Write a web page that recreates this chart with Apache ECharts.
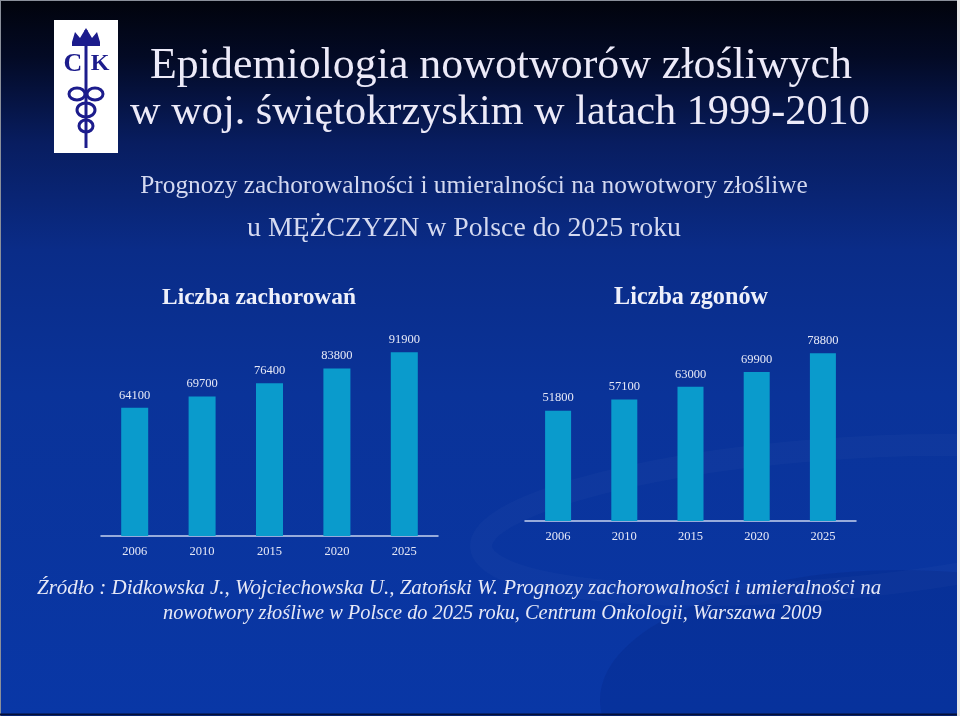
<!DOCTYPE html>
<html><head><meta charset="utf-8">
<script src="https://cdn.jsdelivr.net/npm/echarts@6/dist/echarts.min.js"></script>
<style>html,body{margin:0;padding:0;background:#0a2f95}#c{width:960px;height:716px}</style>
</head><body><div id="c"></div>
<script>
// ---- data ----
const years = ['2006', '2010', '2015', '2020', '2025'];
const incidence = [64100, 69700, 76400, 83800, 91900];   // Liczba zachorowań
const deaths = [51800, 57100, 63000, 69900, 78800];      // Liczba zgonów
const titleLines = ['Epidemiologia nowotworów złośliwych', 'w woj. świętokrzyskim w latach 1999-2010'];
const subtitleLines = ['Prognozy zachorowalności i umieralności na nowotwory złośliwe', 'u MĘŻCZYZN w Polsce do 2025 roku'];
const chartTitles = ['Liczba zachorowań', 'Liczba zgonów'];
const sourceLines = ['Źródło : Didkowska J., Wojciechowska U., Zatoński W. Prognozy zachorowalności i umieralności na',
  'nowotwory złośliwe w Polsce do 2025 roku, Centrum Onkologii, Warszawa 2009'];

const SERIF = '"Liberation Serif", "DejaVu Serif", serif';
const cv = document.createElement('canvas').getContext('2d');
function fit(text, weight, style, target) {
  cv.font = style + ' ' + weight + ' 100px ' + SERIF;
  return 100 * target / cv.measureText(text).width;
}
const chart = echarts.init(document.getElementById('c'), null, {renderer: 'canvas'});
const txtCol = '#e6e8f6';

function textEl(text, x, y, size, opts) {
  opts = opts || {};
  return {type: 'text', x: x, y: y, z: 10, style: {
    text: text, fill: opts.fill || txtCol, fontFamily: SERIF, fontSize: size,
    fontWeight: opts.weight || 'normal', fontStyle: opts.style || 'normal',
    align: opts.align || 'center', verticalAlign: 'middle'}};
}

const t1 = fit(titleLines[0], 'normal', 'normal', 702);
const t2 = fit(titleLines[1], 'normal', 'normal', 740);
const s1 = fit(subtitleLines[0], 'normal', 'normal', 668);
const s2 = fit(subtitleLines[1], 'normal', 'normal', 434);
const c1 = fit(chartTitles[0], 'bold', 'normal', 194);
const c2 = fit(chartTitles[1], 'bold', 'normal', 154);
const r1 = fit(sourceLines[0], 'normal', 'italic', 845);
const r2 = fit(sourceLines[1], 'normal', 'italic', 659);

const logoBlue = '#1c1c8c';
const graphics = [
  {type: 'rect', z: -10, shape: {x: 0, y: 0, width: 960, height: 716}, style: {fill: {
    type: 'linear', x: 0, y: 0, x2: 0, y2: 1, colorStops: [
      {offset: 0, color: '#01030c'}, {offset: 0.08, color: '#030a25'},
      {offset: 0.2, color: '#081d60'}, {offset: 0.35, color: '#0a2c88'},
      {offset: 0.55, color: '#0a3399'}, {offset: 1, color: '#0937a6'}]}}},
  // soft swoosh
  {type: 'ellipse', z: -9, shape: {cx: 820, cy: 520, rx: 340, ry: 70}, rotation: 0.08, originX: 820, originY: 520,
    style: {fill: 'none', stroke: 'rgba(255,255,255,0.025)', lineWidth: 22}},
  {type: 'ellipse', z: -9, shape: {cx: 900, cy: 700, rx: 300, ry: 130}, style: {fill: 'rgba(0,20,90,0.12)'}},
  // frame
  {type: 'line', z: 20, shape: {x1: 0, y1: 0.5, x2: 960, y2: 0.5}, style: {stroke: '#8a8f9a', lineWidth: 1}},
  {type: 'line', z: 20, shape: {x1: 0.5, y1: 0, x2: 0.5, y2: 716}, style: {stroke: '#8a8f9a', lineWidth: 1}},
  {type: 'rect', z: 20, shape: {x: 957, y: 0, width: 3, height: 716}, style: {fill: '#e8e8e8'}},
  {type: 'line', z: 20, shape: {x1: 0, y1: 714.5, x2: 957, y2: 714.5}, style: {stroke: '#05103a', lineWidth: 2}},
  // logo
  {type: 'rect', z: 5, shape: {x: 54, y: 20, width: 64, height: 133}, style: {fill: '#ffffff'}},
  {type: 'line', z: 6, shape: {x1: 86, y1: 30, x2: 86, y2: 148}, style: {stroke: logoBlue, lineWidth: 3}},
  {type: 'polygon', z: 6, shape: {points: [[72, 42], [75, 32], [80, 38], [86, 28], [92, 38], [97, 32], [100, 42]]}, style: {fill: logoBlue}},
  {type: 'rect', z: 6, shape: {x: 72, y: 42, width: 28, height: 4}, style: {fill: logoBlue}},
  {type: 'text', z: 7, x: 73, y: 64, style: {text: 'C', fill: logoBlue, fontFamily: SERIF, fontSize: 26, fontWeight: 'bold', align: 'center', verticalAlign: 'middle'}},
  {type: 'text', z: 7, x: 100, y: 64, style: {text: 'K', fill: logoBlue, fontFamily: SERIF, fontSize: 24, fontWeight: 'bold', align: 'center', verticalAlign: 'middle'}},
  {type: 'ellipse', z: 6, shape: {cx: 77, cy: 94, rx: 8, ry: 6}, style: {fill: 'none', stroke: logoBlue, lineWidth: 3}},
  {type: 'ellipse', z: 6, shape: {cx: 95, cy: 94, rx: 8, ry: 6}, style: {fill: 'none', stroke: logoBlue, lineWidth: 3}},
  {type: 'ellipse', z: 6, shape: {cx: 86, cy: 110, rx: 9, ry: 7}, style: {fill: 'none', stroke: logoBlue, lineWidth: 3}},
  {type: 'ellipse', z: 6, shape: {cx: 86, cy: 126, rx: 7, ry: 6}, style: {fill: 'none', stroke: logoBlue, lineWidth: 3}},
  // titles
  textEl(titleLines[0], 501, 66, t1, {fill: '#eceaf8'}),
  textEl(titleLines[1], 500, 113, t2, {fill: '#eceaf8'}),
  textEl(subtitleLines[0], 474, 186, s1, {fill: '#d4d9f0'}),
  textEl(subtitleLines[1], 464, 229, s2, {fill: '#d4d9f0'}),
  textEl(chartTitles[0], 259, 298, c1, {weight: 'bold', fill: '#eef0fa'}),
  textEl(chartTitles[1], 691, 298, c2, {weight: 'bold', fill: '#eef0fa'}),
  textEl(sourceLines[0], 37, 588, r1, {style: 'italic', align: 'left', fill: '#e6e8f6'}),
  textEl(sourceLines[1], 163, 614, r2, {style: 'italic', align: 'left', fill: '#e6e8f6'})
];

const barColor = '#0a9bcc';
function xAxis(gi) {
  return {type: 'category', gridIndex: gi, data: years,
    axisLine: {lineStyle: {color: '#c6d2f0', width: 1.5}},
    axisTick: {show: false},
    axisLabel: {color: txtCol, fontFamily: SERIF, fontSize: 12.5, margin: 9}};
}
function yAxis(gi) {
  return {type: 'value', gridIndex: gi, min: 0, max: 100000, show: false, splitLine: {show: false}};
}
function bars(gi, data, w) {
  return {type: 'bar', xAxisIndex: gi, yAxisIndex: gi, data: data, barWidth: w,
    itemStyle: {color: barColor},
    label: {show: true, position: 'top', distance: 6, color: txtCol, fontFamily: SERIF, fontSize: 12.5}};
}

chart.setOption({
  animation: false,
  backgroundColor: 'transparent',
  graphic: graphics,
  grid: [
    {left: 101, top: 336, width: 337, height: 200},
    {left: 525, top: 308, width: 331, height: 213}
  ],
  xAxis: [xAxis(0), xAxis(1)],
  yAxis: [yAxis(0), yAxis(1)],
  series: [bars(0, incidence, 27), bars(1, deaths, 26)]
});
</script></body></html>
